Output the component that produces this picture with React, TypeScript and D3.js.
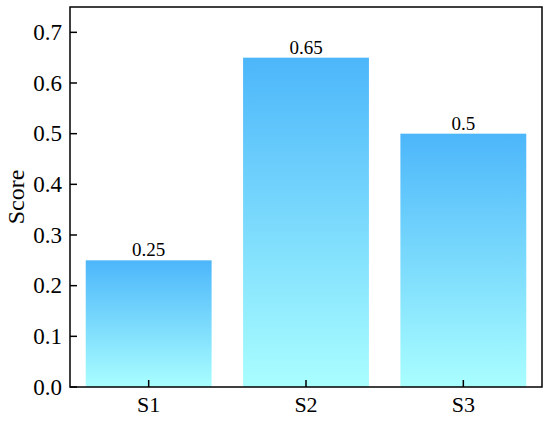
// @ts-nocheck
import React from 'react';
import * as d3 from 'd3';

const categories = ['S1', 'S2', 'S3'];
const scores = [0.25, 0.65, 0.5];
const yTicks = [0.0, 0.1, 0.2, 0.3, 0.4, 0.5, 0.6, 0.7];

const width = 550, height = 421;
const margin = { top: 7, right: 8, bottom: 34, left: 70 };
const innerW = width - margin.left - margin.right;
const innerH = height - margin.top - margin.bottom;
const font = "'Liberation Serif', 'Times New Roman', Times, serif";

export default function App() {
  const x = d3.scaleBand()
    .domain(categories)
    .range([0, innerW])
    .paddingInner(0.2)
    .paddingOuter(0.1);

  const y = d3.scaleLinear()
    .domain([0, 0.75])
    .range([innerH, 0]);

  return (
    <div style={{ position: 'absolute', left: 0, top: 0 }}>
      <svg width={width} height={height} style={{ display: 'block', fontFamily: font }}>
        <defs>
          <linearGradient id="barGrad" x1="0" y1="0" x2="0" y2="1">
            <stop offset="0%" stopColor="#4cb6fa" />
            <stop offset="100%" stopColor="#a9feff" />
          </linearGradient>
        </defs>
        <g transform={`translate(${margin.left},${margin.top})`}>
          {/* bars, gradient per bar */}
          {scores.map((d, i) => (
            <rect key={categories[i]}
              x={x(categories[i])} y={y(d)}
              width={x.bandwidth()} height={innerH - y(d)}
              fill="url(#barGrad)" />
          ))}
          {/* value labels */}
          {scores.map((d, i) => (
            <text key={'v' + i}
              x={x(categories[i]) + x.bandwidth() / 2} y={y(d) - 4}
              textAnchor="middle" fontSize={19}>{String(d)}</text>
          ))}
          {/* y ticks, pointing inward */}
          {yTicks.map(t => (
            <line key={'yl' + t} x1={0} x2={7} y1={y(t)} y2={y(t)} stroke="#000" strokeWidth={1.5} />
          ))}
          {yTicks.map(t => (
            <text key={'yt' + t} x={-8} y={y(t)} dy="0.33em" textAnchor="end" fontSize={23}>{d3.format('.1f')(t)}</text>
          ))}
          {/* x ticks, pointing inward */}
          {categories.map(c => (
            <g key={'x' + c} transform={`translate(${x(c) + x.bandwidth() / 2},${innerH})`}>
              <line y1={0} y2={-7} stroke="#000" strokeWidth={1.5} />
              <text y={25} textAnchor="middle" fontSize={22}>{c}</text>
            </g>
          ))}
          {/* frame */}
          <rect x={0} y={0} width={innerW} height={innerH} fill="none" stroke="#000" strokeWidth={1.5} />
        </g>
        <text transform={`translate(24,${margin.top + innerH / 2}) rotate(-90)`}
          textAnchor="middle" fontSize={24}>Score</text>
      </svg>
    </div>
  );
}
